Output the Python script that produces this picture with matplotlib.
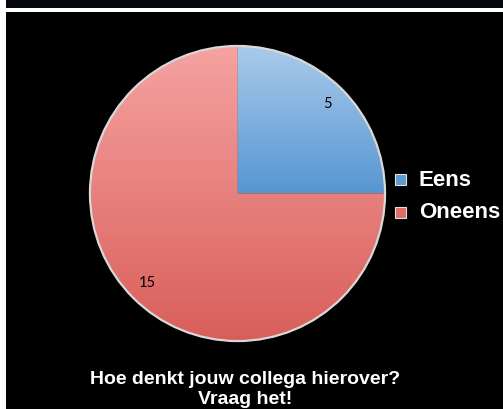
import numpy as np
import matplotlib.pyplot as plt
from matplotlib.patches import Rectangle, Circle
from matplotlib.colors import LinearSegmentedColormap

# data
categories = ['Eens', 'Oneens']
counts = [5, 15]
top_colors = ['#a9cbeb', '#f5a3a2']     # gradient start (top of each slice)
bottom_colors = ['#5896d1', '#d95e5a']  # gradient end (bottom of each slice)
legend_colors = ['#5b9bd5', '#e06b69']
title_lines = ['Hoe denkt jouw collega hierover?', 'Vraag het!']

W, H = 503, 409
fig = plt.figure(figsize=(W / 100, H / 100), dpi=100, facecolor='black')

def px(x, y, w, h):  # pixel box (top-left origin) -> figure fraction
    return [x / W, 1 - (y + h) / H, w / W, h / H]

# frame bits: dark strip at top, white line, white strip on the left
for (x, y, w, h, c) in [(0, 0, W, 8, '#05070e'), (0, 8, W, 4, 'white'), (0, 0, 6, H, 'white')]:
    b = px(x, y, w, h)
    fig.patches.append(Rectangle((b[0], b[1]), b[2], b[3], transform=fig.transFigure,
                                 facecolor=c, edgecolor='none', zorder=0))

ax = fig.add_axes(px(87, 43, 301, 301))
ax.set_facecolor('black')
total = sum(counts)
wedges, texts, autotexts = ax.pie(
    counts, startangle=90, counterclock=False, radius=1,
    colors=bottom_colors, autopct=lambda p: f'{p * total / 100:.0f}', pctdistance=0.86,
    wedgeprops=dict(linewidth=0), textprops=dict(fontsize=10.5, color='black'))
for t in autotexts:
    t.set_family(['Lato', 'DejaVu Sans'])
    t.set_zorder(5)

# vertical gradient inside each slice
grad = np.linspace(0, 1, 256).reshape(-1, 1)
for w, c0, c1 in zip(wedges, top_colors, bottom_colors):
    bb = w.get_path().get_extents()
    cmap = LinearSegmentedColormap.from_list('g', [c0, c1])
    im = ax.imshow(grad, cmap=cmap, extent=(bb.x0, bb.x1, bb.y0, bb.y1), origin='upper',
                   aspect='auto', zorder=2)
    im.set_clip_path(w)
ax.add_patch(Circle((0, 0), 1.0, facecolor='none', edgecolor='#d8d8d8', linewidth=1.6, zorder=3))
ax.set_xlim(-1.02, 1.02)
ax.set_ylim(-1.02, 1.02)
ax.axis('off')

# legend, drawn by hand
for i, (name, c) in enumerate(zip(categories, legend_colors)):
    yc = 179 + i * 33
    b = px(395, yc - 5.5, 11, 11)
    fig.patches.append(Rectangle((b[0], b[1]), b[2], b[3], transform=fig.transFigure,
                                 facecolor=c, edgecolor='#e0e0e0', linewidth=0.8, zorder=3))
    fig.text(419 / W, 1 - (yc + 1) / H, name, ha='left', va='center', color='white',
             fontsize=16, fontweight='bold', family='Liberation Sans')

fig.text(245 / W, 1 - 380 / H, title_lines[0], ha='center', va='center',
         color='white', fontsize=14, fontweight='bold', family='Liberation Sans')
fig.text(245 / W, 1 - 400 / H, title_lines[1], ha='center', va='center',
         color='white', fontsize=14, fontweight='bold', family='Liberation Sans')

fig.savefig('out.png', dpi=100, facecolor='black')
